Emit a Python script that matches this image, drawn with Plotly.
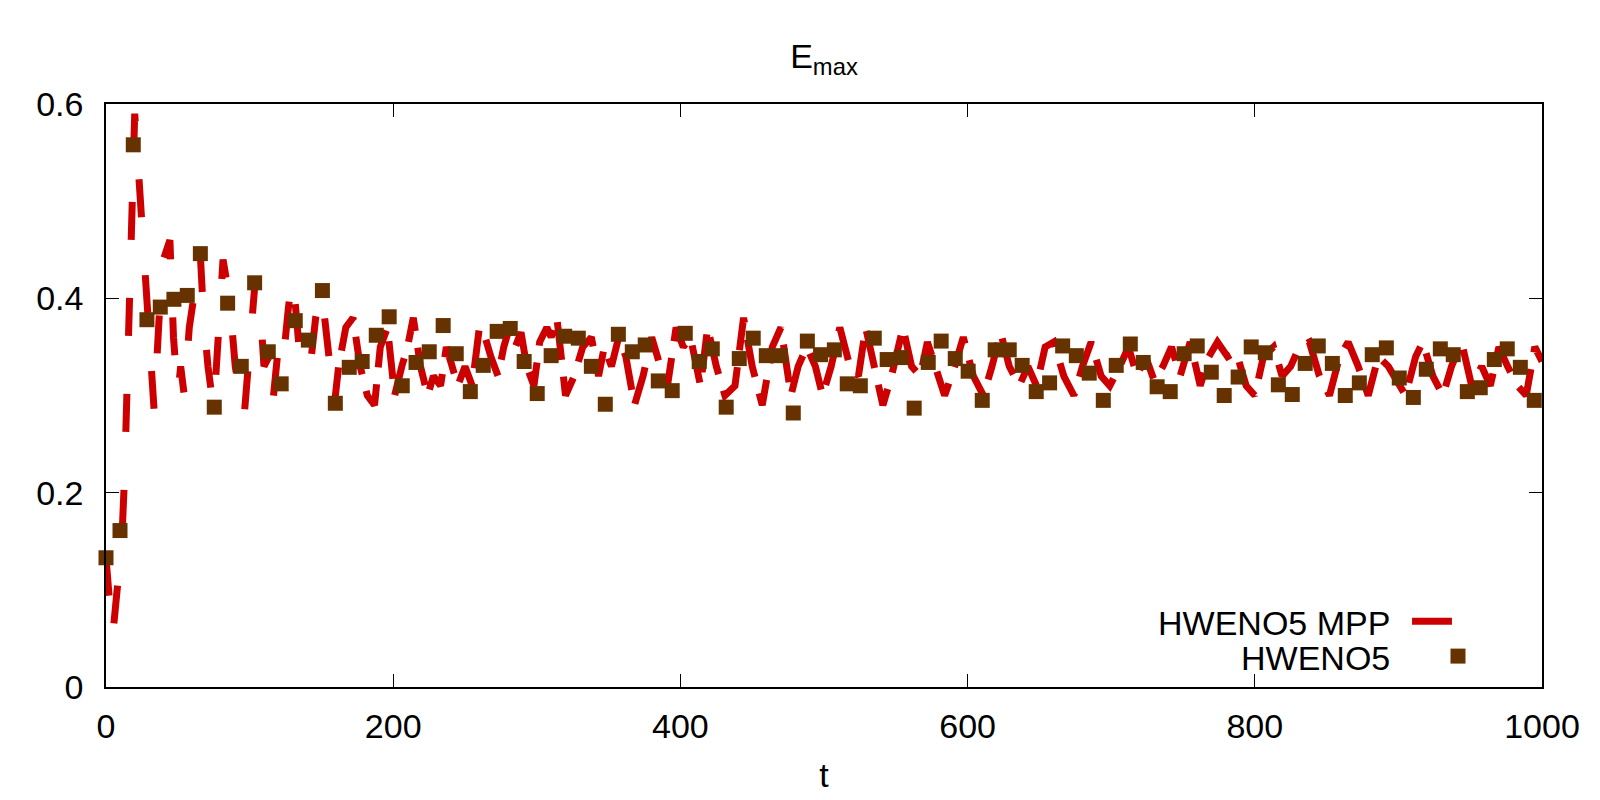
import plotly.graph_objects as go

# HWENO5 MPP (dashed red line)
mpp_t = [
    0, 4.5, 11, 13, 20, 33.5, 37, 40, 44.5, 47,
    50, 52, 54.5, 58, 61, 65.5, 68, 71, 75, 78,
    81.5, 86, 90, 96, 100, 104, 107, 110, 113.5, 116,
    120, 123, 127, 130, 135, 140, 143, 146, 150, 154,
    159, 162, 167, 172, 177, 182, 187, 191, 196, 201,
    206, 210, 214, 219, 224, 228, 233, 237, 241, 245,
    250, 255, 260, 264, 268, 273, 277, 281, 285, 289,
    293, 298, 302, 307, 310, 314, 320, 326, 332, 338,
    343, 347, 352, 357, 362, 368, 374, 380, 386, 391,
    397, 402, 407, 414, 419, 425, 431, 438, 444, 450,
    457, 464, 470, 477, 482, 488, 494, 499, 505, 511,
    518, 524, 529, 535, 541, 547, 555, 561, 567, 572,
    578, 584, 591, 597, 604, 611, 617, 623, 629, 636,
    642, 648, 654, 660, 667, 674, 680, 686, 693, 699,
    706, 712, 718, 724, 730, 736, 742, 748, 755, 762,
    768, 774, 781, 787, 794, 800, 806, 813, 819, 825,
    831, 838, 845, 852, 859, 865, 872, 879, 886, 893,
    899, 905, 912, 917, 924, 931, 937, 944, 951, 958,
    964, 970, 976, 983, 989, 995, 1000,
]
mpp_v = [
    0.133, 0.05, 0.15, 0.22, 0.59, 0.285, 0.38, 0.44, 0.46, 0.36,
    0.30, 0.33, 0.30, 0.37, 0.40, 0.45, 0.38, 0.33, 0.285, 0.36,
    0.44, 0.40, 0.33, 0.275, 0.36, 0.42, 0.40, 0.33, 0.34, 0.29,
    0.35, 0.33, 0.39, 0.425, 0.34, 0.32, 0.34, 0.38, 0.41, 0.36,
    0.29, 0.33, 0.37, 0.38, 0.33, 0.30, 0.29, 0.35, 0.37, 0.30,
    0.33, 0.35, 0.38, 0.33, 0.30, 0.32, 0.31, 0.35, 0.33, 0.31,
    0.33, 0.31, 0.37, 0.36, 0.34, 0.32, 0.35, 0.37, 0.35, 0.365,
    0.33, 0.31, 0.355, 0.37, 0.36, 0.38, 0.30, 0.32, 0.35, 0.36,
    0.32, 0.35, 0.33, 0.36, 0.34, 0.29, 0.32, 0.36, 0.33, 0.31,
    0.37, 0.35, 0.36, 0.31, 0.37, 0.33, 0.30, 0.31, 0.38, 0.33,
    0.29, 0.35, 0.37, 0.30, 0.33, 0.35, 0.33, 0.30, 0.33, 0.37,
    0.33, 0.32, 0.37, 0.33, 0.29, 0.32, 0.37, 0.33, 0.32, 0.355,
    0.33, 0.30, 0.33, 0.36, 0.32, 0.30, 0.33, 0.365, 0.33, 0.31,
    0.33, 0.31, 0.35, 0.355, 0.32, 0.30, 0.33, 0.355, 0.32, 0.31,
    0.33, 0.35, 0.32, 0.34, 0.315, 0.33, 0.35, 0.32, 0.355, 0.31,
    0.34, 0.355, 0.34, 0.345, 0.31, 0.30, 0.34, 0.35, 0.32, 0.33,
    0.35, 0.355, 0.32, 0.30, 0.34, 0.355, 0.33, 0.30, 0.34, 0.33,
    0.315, 0.30, 0.34, 0.355, 0.32, 0.30, 0.33, 0.355, 0.31, 0.33,
    0.31, 0.35, 0.33, 0.31, 0.30, 0.35, 0.335,
]

# HWENO5 (brown squares)
h5_t = [
    0, 9.75, 19, 28.5, 37.8, 47.3, 56.6, 65.7, 75.4, 84.7,
    94.2, 103.5, 113, 122, 131.8, 140.9, 150.7, 159.7, 169.4, 178.4,
    188.2, 197.2, 206.3, 215.9, 225.1, 234.8, 243.9, 253.7, 262.7, 272.4,
    281.5, 291.2, 300.3, 310, 319.4, 328.9, 338, 347.7, 356.8, 366.5,
    375.5, 384.6, 394.3, 403.4, 413.1, 422.2, 431.9, 441, 450.7, 459.8,
    469.5, 478.6, 488.4, 497.6, 507.2, 516.2, 525.3, 535, 544, 553.8,
    562.8, 572.6, 581.6, 591.4, 600.4, 610.2, 619.2, 629, 638, 647.8,
    657.1, 666.2, 675.7, 684.7, 694.5, 703.5, 713.3, 722.3, 732, 741.1,
    750.8, 759.9, 769.7, 778.7, 788.4, 797.5, 807.3, 816.4, 826.1, 835.1,
    844.2, 854, 863, 872.8, 881.8, 891.6, 900.6, 910.4, 919.4, 929.2,
    938.2, 948, 957, 966.8, 975.8, 984.9, 994.6,
]
h5_v = [
    0.133, 0.161, 0.558, 0.378, 0.391, 0.399, 0.403, 0.446, 0.288, 0.395,
    0.330, 0.416, 0.345, 0.312, 0.377, 0.357, 0.408, 0.292, 0.329, 0.335,
    0.362, 0.381, 0.310, 0.334, 0.345, 0.372, 0.343, 0.304, 0.331, 0.366,
    0.369, 0.335, 0.302, 0.341, 0.361, 0.359, 0.330, 0.291, 0.363, 0.345,
    0.352, 0.315, 0.305, 0.364, 0.335, 0.348, 0.288, 0.338, 0.359, 0.341,
    0.341, 0.282, 0.356, 0.342, 0.347, 0.312, 0.310, 0.359, 0.337, 0.339,
    0.287, 0.334, 0.356, 0.338, 0.325, 0.295, 0.347, 0.347, 0.331, 0.304,
    0.313, 0.351, 0.341, 0.323, 0.295, 0.331, 0.353, 0.334, 0.309, 0.304,
    0.343, 0.351, 0.324, 0.300, 0.319, 0.350, 0.344, 0.311, 0.301, 0.333,
    0.351, 0.333, 0.300, 0.313, 0.342, 0.349, 0.318, 0.298, 0.327, 0.348,
    0.342, 0.304, 0.308, 0.337, 0.348, 0.329, 0.295,
]

x_ticks = [0, 200, 400, 600, 800, 1000]
y_ticks = [0, 0.2, 0.4, 0.6]
series_names = ["HWENO5 MPP", "HWENO5"]

RED = "#cc0000"
BROWN = "#663300"
FONT = "Liberation Sans, Arial, Helvetica, sans-serif"
FS = 34

# the transient part is drawn with the long gnuplot dash gaps, the dense
# oscillating part with the tighter look it has in the picture
split = mpp_t.index(159)

fig = go.Figure()
fig.add_trace(go.Scatter(
    x=mpp_t[:split + 1], y=mpp_v[:split + 1], mode="lines",
    name=series_names[0], legendgroup="mpp",
    line=dict(color=RED, width=7, dash="38px,58px"),
))
fig.add_trace(go.Scatter(
    x=mpp_t[split:], y=mpp_v[split:], mode="lines",
    name=series_names[0], legendgroup="mpp",
    line=dict(color=RED, width=7, dash="38px,17px"),
))
fig.add_trace(go.Scatter(
    x=h5_t, y=h5_v, mode="markers", name=series_names[1],
    marker=dict(symbol="square", size=15, color=BROWN, line=dict(width=0)),
    cliponaxis=False,
))

axis_common = dict(
    showline=True, linecolor="black", linewidth=1.5, mirror="ticks",
    ticks="inside", ticklen=13, tickwidth=1, tickcolor="black",
    showgrid=False, zeroline=False,
    tickfont=dict(family=FONT, size=FS, color="black"),
)

fig.update_layout(
    width=1600, height=800,
    margin=dict(l=106, r=58, t=104, b=111),
    paper_bgcolor="white", plot_bgcolor="white",
    showlegend=False,
    font=dict(family=FONT, size=FS, color="black"),
    title=dict(text="E<sub>max</sub>", xref="paper", x=0.5, xanchor="center",
               yref="container", y=1 - 56 / 800, yanchor="middle",
               font=dict(family=FONT, size=FS, color="black")),
    xaxis=dict(range=[0, 1000], tickvals=x_ticks, ticklabelstandoff=8,
               title=dict(text="t", standoff=20,
                          font=dict(family=FONT, size=FS, color="black")),
               **axis_common),
    yaxis=dict(range=[0, 0.6], tickvals=y_ticks, ticklabelstandoff=14,
               **axis_common),
)

# legend drawn gnuplot-style (text right-aligned, sample to the right)
fig.add_annotation(text=series_names[0], xref="paper", yref="paper",
                   x=0.8955, y=0.1094, xanchor="right", yanchor="middle",
                   showarrow=False, font=dict(family=FONT, size=FS, color="black"))
fig.add_annotation(text=series_names[1], xref="paper", yref="paper",
                   x=0.8955, y=0.0496, xanchor="right", yanchor="middle",
                   showarrow=False, font=dict(family=FONT, size=FS, color="black"))
fig.add_shape(type="line", xref="paper", yref="paper",
              x0=0.9095, x1=0.9373, y0=0.1128, y1=0.1128,
              line=dict(color=RED, width=7))
fig.add_shape(type="rect", xref="paper", yref="paper",
              xsizemode="pixel", ysizemode="pixel",
              xanchor=0.9415, yanchor=0.053, x0=-7.5, x1=7.5, y0=-7.5, y1=7.5,
              fillcolor=BROWN, line=dict(width=0))

fig.write_html("out.html")
